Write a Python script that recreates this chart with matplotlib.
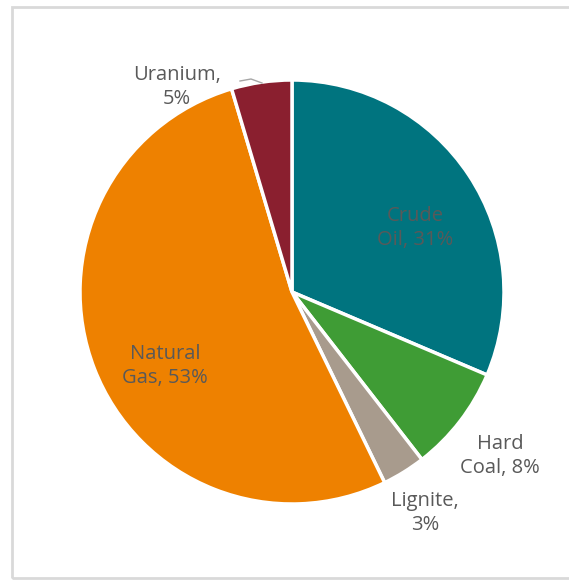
import matplotlib.pyplot as plt
from matplotlib.patches import Rectangle

names = ["Crude Oil", "Hard Coal", "Lignite", "Natural Gas", "Uranium"]
# slice sizes; labels show the rounded values
shares = [31.4, 8.1, 3.3, 52.6, 4.6]
label_pct = [31, 8, 3, 53, 5]
colors = ["#00747f", "#3f9c35", "#a89b8d", "#ee8100", "#8a1f2f"]

# label centres in pixel space, measured from the top (layout only)
label_pos = [(415, 228), (500, 456), (425, 513), (165, 366), (177, 87)]

W, H = 569, 582
fig = plt.figure(figsize=(W / 100, H / 100), dpi=100)
ax = fig.add_axes([0, 0, 1, 1])

fig.patches.append(Rectangle((12 / W, 4 / H), 1.2, 1 - 11 / H, transform=fig.transFigure,
                             fill=False, edgecolor="#d9d9d9", linewidth=2))

wedges, _ = ax.pie(shares, colors=colors, startangle=90, counterclock=False,
                   center=(292, H - 292), radius=212, frame=True,
                   wedgeprops=dict(edgecolor="white", linewidth=2.5))
ax.set_xlim(0, W)
ax.set_ylim(0, H)
ax.set_aspect("equal")
ax.axis("off")

for name, val, (x, y) in zip(names, label_pct, label_pos):
    if name in ("Crude Oil", "Hard Coal", "Natural Gas"):
        first, second = name.split(" ")
        txt = f"{first}\n{second}, {val}%"
    else:
        txt = f"{name},\n{val}%"
    ax.text(x, H - y, txt, ha="center", va="center", fontsize=14.5, color="#595959",
            family="Open Sans", linespacing=1.3)

# leader line for the small uranium slice
ax.plot([240, 251, 262], [H - 81, H - 79, H - 83], color="#a6a6a6", linewidth=1)

fig.savefig("out.png", dpi=100, facecolor="white")
